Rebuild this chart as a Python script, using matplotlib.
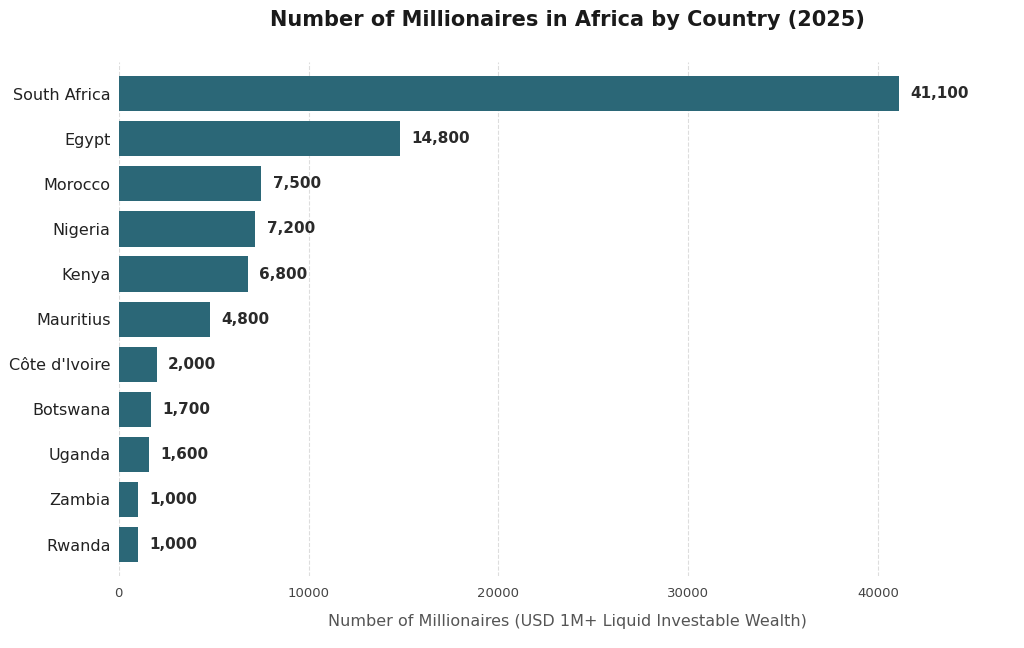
import matplotlib
matplotlib.use("Agg")
import matplotlib.pyplot as plt

countries = ["South Africa", "Egypt", "Morocco", "Nigeria", "Kenya", "Mauritius",
             "Côte d'Ivoire", "Botswana", "Uganda", "Zambia", "Rwanda"]
millionaires = [41100, 14800, 7500, 7200, 6800, 4800, 2000, 1700, 1600, 1000, 1000]

fig = plt.figure(figsize=(10.24, 6.48), dpi=100)
ax = fig.add_axes([0.116, 0.111, 0.876, 0.793])

ypos = list(range(len(countries)))[::-1]
ax.barh(ypos, millionaires, height=0.78, color="#2b6777", zorder=2)
for y, v in zip(ypos, millionaires):
    ax.text(v + 600, y, f"{v:,}", va="center", ha="left",
            fontsize=11, fontweight="bold", color="#2a2a2a")

ax.set_yticks(ypos)
ax.set_yticklabels(countries, fontsize=11.5, color="#222222")
ax.set_ylim(-0.7, len(countries) - 0.3)
ax.set_xlim(0, max(millionaires) * 1.15)
ax.set_xticks([0, 10000, 20000, 30000, 40000])
ax.tick_params(axis="x", labelsize=9.5, colors="#444444", length=0, pad=8)
ax.tick_params(axis="y", length=0, pad=6)
ax.grid(axis="x", linestyle="--", color="#dddddd", linewidth=0.8, zorder=0)
for s in ax.spines.values():
    s.set_visible(False)

ax.set_xlabel("Number of Millionaires (USD 1M+ Liquid Investable Wealth)",
              fontsize=11.5, color="#555555", labelpad=10)
fig.suptitle("Number of Millionaires in Africa by Country (2025)",
             fontsize=15, fontweight="bold", color="#1a1a1a", x=0.554, y=0.985)

fig.savefig("out.png", dpi=100)
